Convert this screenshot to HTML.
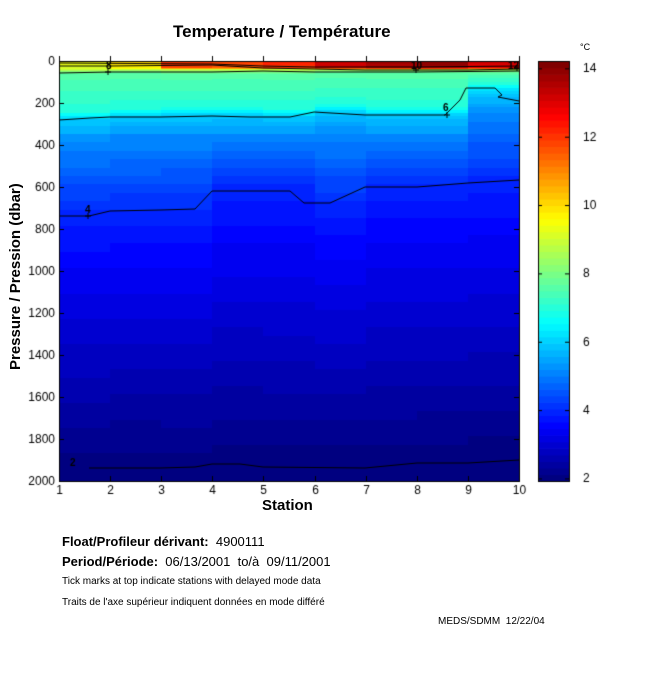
<!DOCTYPE html>
<html><head><meta charset="utf-8"><style>
body{margin:0;background:#fff;width:650px;height:680px;position:relative;overflow:hidden;font-family:"Liberation Sans",Arial,sans-serif;color:#000}
.t{position:absolute;white-space:nowrap}
canvas{position:absolute;left:0;top:0}
</style></head><body>
<canvas id="c" width="650" height="680"></canvas>
<div class="t" style="left:173px;top:22px;font-size:17px;font-weight:bold">Temperature / Température</div>
<div class="t" style="left:580px;top:42px;font-size:9px">°C</div>
<div class="t" style="left:262px;top:497px;font-size:15px;font-weight:bold">Station</div>
<div class="t" style="left:7px;top:370px;font-size:15px;font-weight:bold;transform:rotate(-90deg);transform-origin:0 0">Pressure / Pression (dbar)</div>
<div class="t" style="left:62px;top:534px;font-size:13px"><b>Float/Profileur dérivant:</b>&nbsp; 4900111</div>
<div class="t" style="left:62px;top:554px;font-size:13px"><b>Period/Période:</b>&nbsp; 06/13/2001&nbsp; to/à&nbsp; 09/11/2001</div>
<div class="t" style="left:62px;top:576px;font-size:10px">Tick marks at top indicate stations with delayed mode data</div>
<div class="t" style="left:62px;top:597px;font-size:10px">Traits de l'axe supérieur indiquent données en mode différé</div>
<div class="t" style="left:438px;top:616px;font-size:10px">MEDS/SDMM&nbsp; 12/22/04</div>
<script>
const c=document.getElementById('c').getContext('2d');
const X0=59,X1=519,Y0=61,Y1=481;
const sx=s=>X0+(s-1)*(X1-X0)/9, py=p=>Y0+p*(Y1-Y0)/2000;
function jet(v){v=Math.max(0,Math.min(1,v));
 const f=x=>Math.max(0,Math.min(1,x));
 return [f(1.5-Math.abs(4*v-3)),f(1.5-Math.abs(4*v-2)),f(1.5-Math.abs(4*v-1))].map(x=>Math.round(x*255));}
const TMIN=1.94,TMAX=14.23;
const col=t=>{const q=Math.floor((t-TMIN)/(TMAX-TMIN)*64)/63;const k=jet(q);return `rgb(${k[0]},${k[1]},${k[2]})`};
// per column: surface T, d8, d6, d4, d2
const cols=[[9.6,55,281,738,1940],[10.2,50,267,710,1940],[12.2,55,262,705,1945],[12.0,55,258,619,1920],[12.4,55,265,619,1938],[13.4,50,245,680,1935],[13.9,50,258,600,1940],[14.1,50,258,600,1918],[13.3,50,150,570,1905]];
for(let i=0;i<9;i++){const [s,d8,d6,d4,d2]=cols[i];
 const pts=[[0,s],[35,s-0.5],[42,9],[d8,8],[d8+15,7.6],[d6-40,7.0],[d6,6],[d6+100,5.2],[d4,4],[d4+250,3.5],[d2,2],[2000,1.95]];
 const T=p=>{for(let k=1;k<pts.length;k++)if(p<=pts[k][0]){const a=pts[k-1],b=pts[k];return a[1]+(b[1]-a[1])*(p-a[0])/(b[0]-a[0]);}return 1.95};
 const step=p=>p<100?5:(p<300?15:40);
 for(let p=0;p<2000;){const st=step(p);c.fillStyle=col(T(p+st/2));
  const ya=Math.floor(py(p)),yb=Math.ceil(py(Math.min(2000,p+st)));
  c.fillRect(Math.round(sx(i+1)),ya,Math.round(sx(i+2))-Math.round(sx(i+1)),yb-ya);p+=st;}
}
// colorbar
for(let k=0;k<64;k++){const j=jet(k/63);c.fillStyle=`rgb(${j})`;const h=420/64;c.fillRect(538,481-(k+1)*h,31,h+0.7);}
c.strokeStyle='#000';c.lineWidth=1;c.strokeRect(538.5,61.5,31,420);
c.font='12px "Liberation Sans",sans-serif';c.fillStyle='#000';c.textBaseline='middle';
for(let t=2;t<=14;t+=2){const y=481-(t-TMIN)/(TMAX-TMIN)*420;c.beginPath();c.moveTo(538,y);c.lineTo(542,y);c.moveTo(569,y);c.lineTo(565,y);c.stroke();c.fillText(t,583,y);}
function line(p){c.beginPath();c.moveTo(p[0][0],p[0][1]);for(const q of p)c.lineTo(q[0],q[1]);c.stroke();}
c.lineWidth=1;
line([[59,73],[110,72],[212,72],[263,71],[314,72],[417,72],[519,71]]);
line([[59,66],[110,66],[212,65],[263,68],[314,69],[365,70],[417,70],[468,70],[519,69]]);
line([[59,63],[212,64],[263,66],[314,67],[417,67],[519,66]]);
line([[59,120],[90,118],[110,117],[160,117],[212,116],[250,117],[290,117],[314,112],[365,115],[417,115],[445,115],[460,100],[466,88],[495,88],[502,95],[498,97],[519,101]]);
line([[59,216],[89,216],[110,211],[160,210],[195,209],[212,191],[263,191],[290,191],[304,203],[330,203],[365,187],[417,187],[468,183],[519,180]]);
line([[89,468],[160,468],[195,467],[212,464],[240,464],[263,467],[365,468],[417,463],[468,463],[519,460]]);
c.font='bold 10px "Liberation Sans",sans-serif';
[['8',106,66],['6',443,108],['4',85,210],['2',70,463],['10',411,66],['12',508,66]].forEach(a=>c.fillText(a[0],a[1],a[2]));
[[108,72],[447,115],[88,216],[416,70],[517,68]].forEach(a=>{c.beginPath();c.moveTo(a[0]-3,a[1]);c.lineTo(a[0]+3,a[1]);c.moveTo(a[0],a[1]-3);c.lineTo(a[0],a[1]+3);c.stroke();});
c.lineWidth=1;c.strokeRect(59.5,61.5,460,420);
c.font='12px "Liberation Sans",sans-serif';c.textAlign='right';
for(let p=0;p<=2000;p+=200){const y=Math.round(py(p))+0.5;c.beginPath();c.moveTo(59,y);c.lineTo(64,y);c.moveTo(519,y);c.lineTo(514,y);c.stroke();c.fillText(p,55,y);}
c.textAlign='center';c.textBaseline='top';
for(let s=1;s<=10;s++){const x=Math.round(sx(s))+0.5;c.beginPath();c.moveTo(x,481);c.lineTo(x,476);c.moveTo(x,61);c.lineTo(x,56);c.stroke();c.fillText(s,x,485);}
</script>
</body></html>
